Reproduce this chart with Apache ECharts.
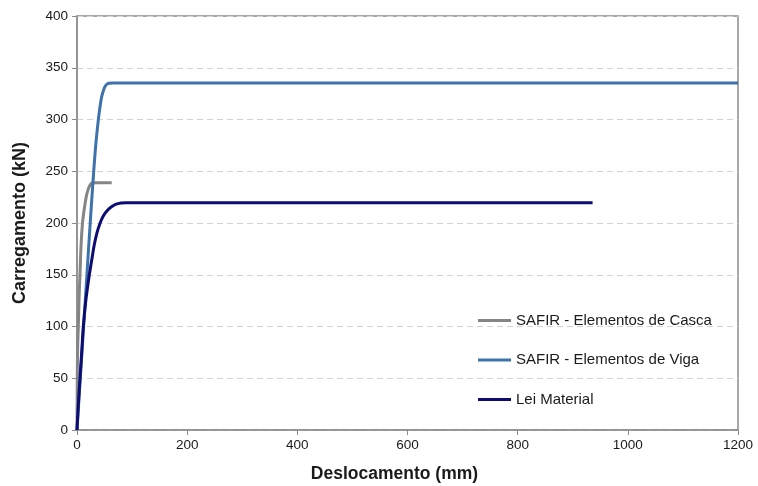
<!DOCTYPE html>
<html>
<head>
<meta charset="utf-8">
<script src="https://cdn.jsdelivr.net/npm/echarts@6/dist/echarts.min.js"></script>
<style>
  html, body { margin: 0; padding: 0; background: #fff; }
  #chart { width: 758px; height: 486px; }
</style>
</head>
<body>
<div id="chart"></div>
<script>
// Load–displacement curves (displacement in mm, load in kN)
const seriesNames = ['SAFIR - Elementos de Casca', 'SAFIR - Elementos de Viga', 'Lei Material'];

const cascaX = [0, 0.3, 0.6, 1.2, 2.4, 3.8, 5.4, 7.5, 10, 12.5, 14.5, 17, 20, 23, 26.6, 30, 63];
const cascaY = [0, 30, 55, 80, 100, 128, 150, 180, 200, 211, 218, 226, 232, 236, 238.6, 238.8, 238.8];

const vigaX = [0, 6, 12, 18, 24, 29.7, 34, 38.8, 42, 44.8, 48, 50.9, 54, 58, 65, 150, 1200];
const vigaY = [0, 50, 100, 150, 200, 245, 275, 300, 313, 322, 328, 332, 334, 335, 335.3, 335.3, 335.3];

const leiX = [0, 2.5, 5.4, 8.5, 11.5, 16, 22.4, 27, 31, 36, 42, 48, 55, 62, 70, 80, 90, 120, 936];
const leiY = [0, 25, 50, 75, 100, 125, 150, 165, 178, 190, 200, 207, 212, 215.5, 218, 219.3, 219.6, 219.6, 219.6];

const xTicks = { min: 0, max: 1200, interval: 200 };
const yTicks = { min: 0, max: 400, interval: 50 };

const colors = ['#858585', '#3d72aa', '#0c0c72'];

function pairs(xs, ys) { return xs.map((x, i) => [x, ys[i]]); }

const chart = echarts.init(document.getElementById('chart'), null, { renderer: 'canvas' });

const font = 'Arial, "Liberation Sans", sans-serif';

chart.setOption({
  animation: false,
  backgroundColor: '#ffffff',
  color: colors,
  grid: { left: 77, right: 20, top: 16, bottom: 56, show: true, borderColor: '#8c8c8c', borderWidth: 1.5,
          containLabel: false, outerBoundsMode: 'none' },
  legend: {
    orient: 'vertical',
    left: 473,
    top: 308,
    itemGap: 24.5,
    itemWidth: 33,
    itemHeight: 3,
    icon: 'rect',
    textStyle: { fontFamily: font, fontSize: 15, color: '#1a1a1a' },
    data: seriesNames
  },
  xAxis: {
    type: 'value',
    min: xTicks.min, max: xTicks.max, interval: xTicks.interval,
    name: 'Deslocamento (mm)',
    nameLocation: 'middle',
    nameGap: 35,
    nameTextStyle: { fontFamily: font, fontSize: 17.5, fontWeight: 'bold', color: '#1a1a1a', padding: [0, 26, 0, 0] },
    axisLine: { show: true, lineStyle: { color: '#8c8c8c', width: 1.5 } },
    axisTick: { show: true, inside: false, length: 5, lineStyle: { color: '#8c8c8c' } },
    axisLabel: { fontFamily: font, fontSize: 13.5, color: '#1a1a1a', margin: 8, formatter: v => String(v) },
    splitLine: { show: false }
  },
  yAxis: {
    type: 'value',
    min: yTicks.min, max: yTicks.max, interval: yTicks.interval,
    name: 'Carregamento (kN)',
    nameLocation: 'middle',
    nameGap: 48,
    nameRotate: 90,
    nameTextStyle: { fontFamily: font, fontSize: 18, fontWeight: 'bold', color: '#1a1a1a' },
    axisLine: { show: true, lineStyle: { color: '#8c8c8c', width: 1.5 } },
    axisTick: { show: true, inside: false, length: 5, lineStyle: { color: '#8c8c8c' } },
    axisLabel: { fontFamily: font, fontSize: 13.5, color: '#1a1a1a', margin: 9, formatter: v => String(v) },
    splitLine: { show: true, lineStyle: { color: '#d4d4d4', type: [6, 4], width: 1 } }
  },
  series: [
    { name: seriesNames[0], type: 'line', data: pairs(cascaX, cascaY), showSymbol: false, symbol: 'none',
      smooth: 0.35, lineStyle: { width: 3, color: colors[0] }, z: 2 },
    { name: seriesNames[1], type: 'line', data: pairs(vigaX, vigaY), showSymbol: false, symbol: 'none',
      smooth: 0.35, lineStyle: { width: 3, color: colors[1] }, z: 3 },
    { name: seriesNames[2], type: 'line', data: pairs(leiX, leiY), showSymbol: false, symbol: 'none',
      smooth: 0.35, lineStyle: { width: 3, color: colors[2] }, z: 4 }
  ]
});
</script>
</body>
</html>
